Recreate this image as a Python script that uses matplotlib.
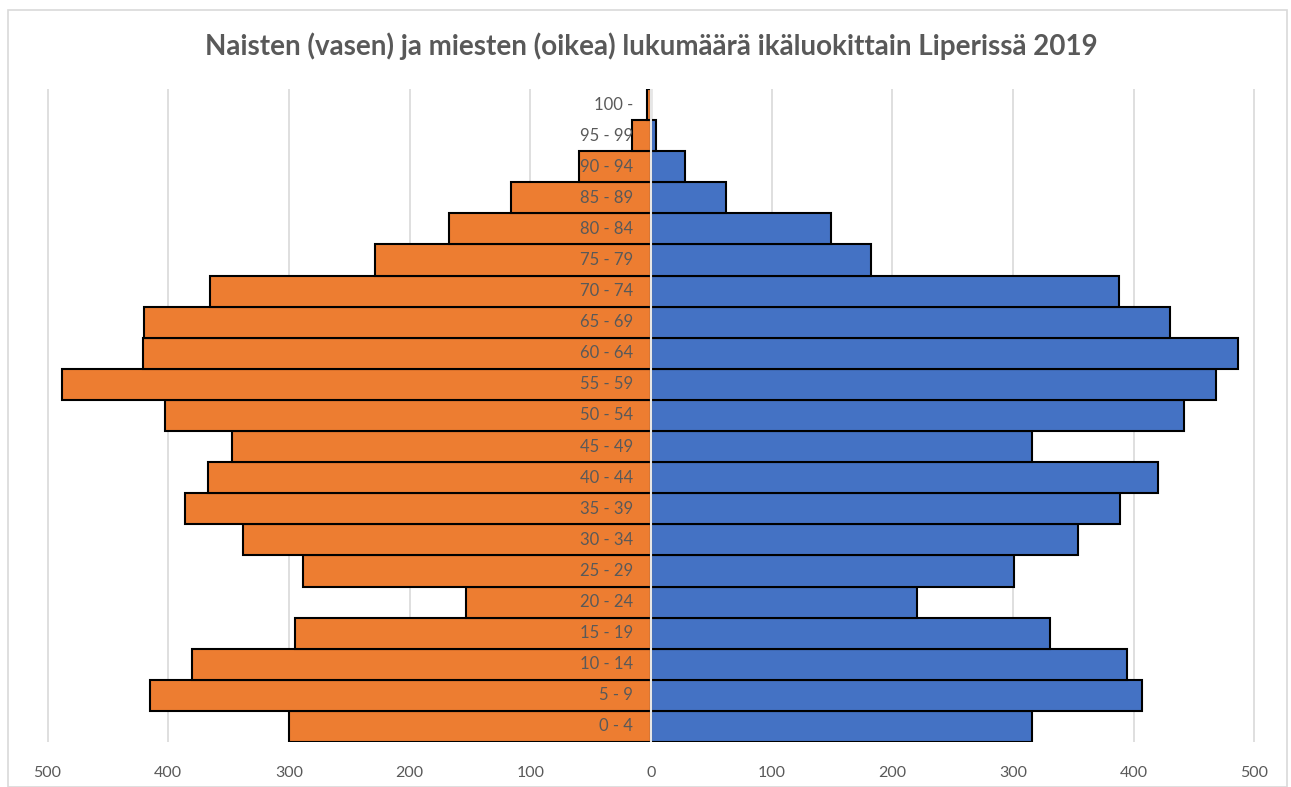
import matplotlib.pyplot as plt
from matplotlib.patches import Rectangle
import numpy as np

age_groups = ['0 - 4', '5 - 9', '10 - 14', '15 - 19', '20 - 24', '25 - 29', '30 - 34',
              '35 - 39', '40 - 44', '45 - 49', '50 - 54', '55 - 59', '60 - 64', '65 - 69',
              '70 - 74', '75 - 79', '80 - 84', '85 - 89', '90 - 94', '95 - 99', '100 -']
women = [300, 415, 380, 295, 153, 288, 338, 386, 367, 347, 403, 488, 421, 420,
         365, 229, 167, 116, 60, 16, 3]
men = [316, 407, 394, 331, 220, 301, 354, 389, 420, 316, 442, 468, 486, 430,
       388, 182, 149, 62, 28, 4, 0]
ticks = [-500, -400, -300, -200, -100, 0, 100, 200, 300, 400, 500]

plt.rcParams['font.family'] = ['Lato', 'DejaVu Sans']
grey = '#595959'

fig = plt.figure(figsize=(12.91, 7.87), dpi=100)
fig.patches.append(Rectangle((8 / 1291, 0), 1279 / 1291, 777 / 787,
                             transform=fig.transFigure, fill=False,
                             edgecolor='#d9d9d9', linewidth=1.2))

ax = fig.add_axes([41.5 / 1291, 45 / 787, 1219 / 1291, 653 / 787])
y = np.arange(len(age_groups))

ax.barh(y, [-w for w in women], height=1.0, color='#ED7D31', edgecolor='black',
        linewidth=1.5, zorder=2)
ax.barh(y, men, height=1.0, color='#4472C4', edgecolor='black',
        linewidth=1.5, zorder=2)
ax.axvline(0, color='#e6e6e6', linewidth=1.5, zorder=3)

for yi, lab in zip(y, age_groups):
    ax.text(-15, yi, lab, ha='right', va='center', fontsize=12, color=grey, zorder=4)

ax.set_xlim(-505, 505)
ax.set_ylim(-0.5, len(age_groups) - 0.5)
ax.set_xticks(ticks)
ax.set_xticklabels([str(abs(t)) for t in ticks], color=grey, fontsize=11.5)
ax.set_yticks([])
ax.tick_params(axis='x', length=0, pad=17)
ax.grid(axis='x', color='#d9d9d9', linewidth=1.2, zorder=0)
ax.set_axisbelow(True)
for s in ax.spines.values():
    s.set_visible(False)

fig.text(651 / 1291, 1 - 46 / 787, 'Naisten (vasen) ja miesten (oikea) lukumäärä ikäluokittain Liperissä 2019',
         ha='center', va='center', fontsize=20, fontweight='bold', color=grey)

fig.savefig('out.png', dpi=100)
